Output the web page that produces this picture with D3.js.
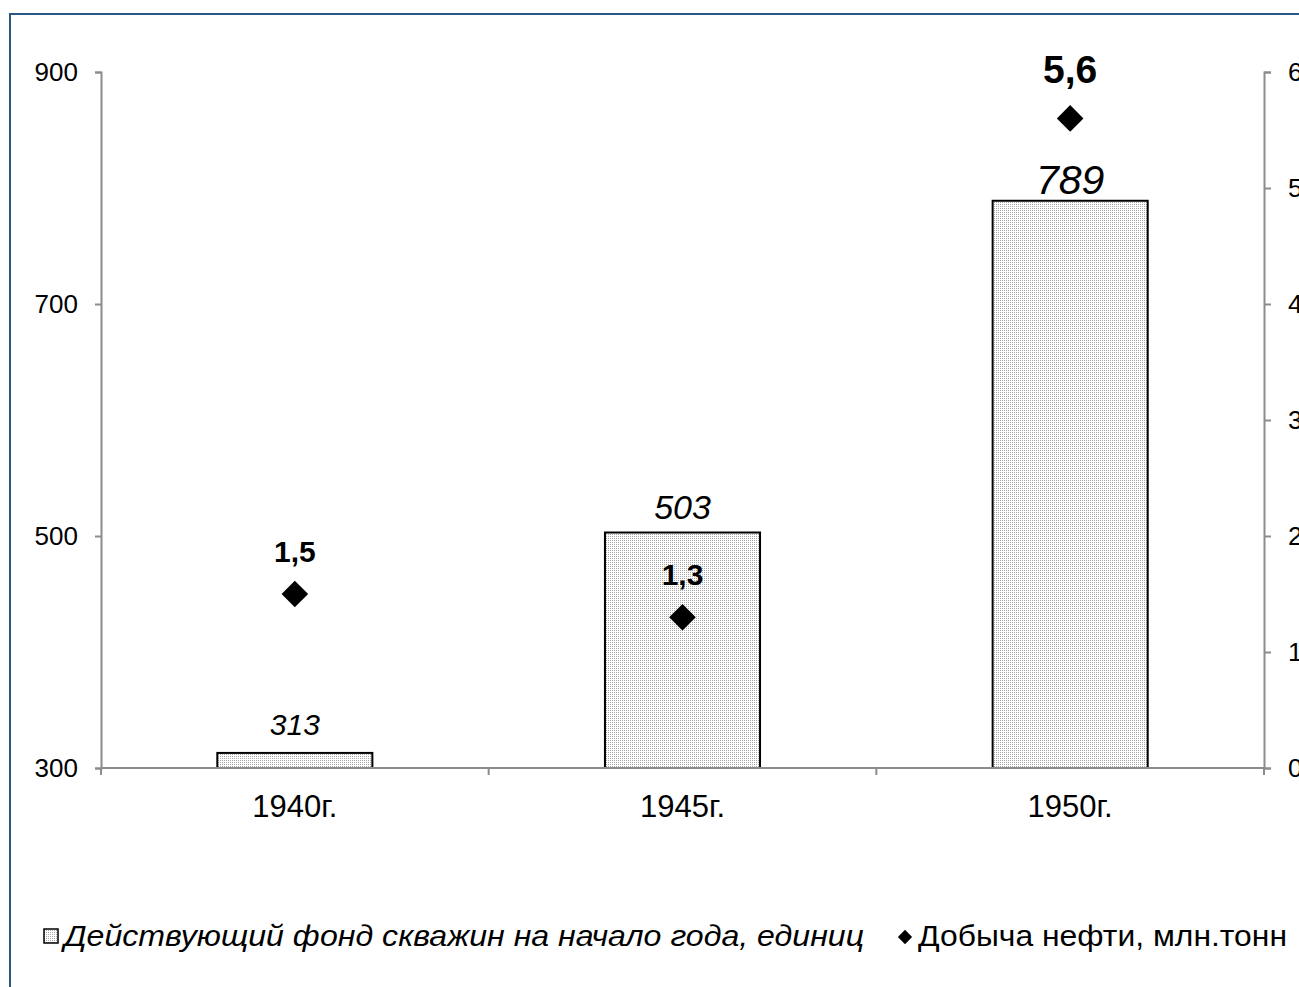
<!DOCTYPE html>
<html>
<head>
<meta charset="utf-8">
<script src="https://cdn.jsdelivr.net/npm/d3@7"></script>
<style>
  html, body { margin: 0; padding: 0; background: #fff; }
  svg { display: block; font-family: "Liberation Sans", Arial, sans-serif; }
</style>
</head>
<body>
<svg id="chart" width="1299" height="987"></svg>
<script>
// ---- data ----
const categories = ["1940г.", "1945г.", "1950г."];
const wells = [313, 503, 789];              // Действующий фонд скважин, единиц (left axis)
const oil = [1.5, 1.3, 5.6];                // Добыча нефти, млн.тонн (right axis)
const wellLabelSizes = [30, 34, 41];
const oilLabelSizes = [30, 30, 39];
const leftTicks = [300, 500, 700, 900];
const rightTicks = [0, 1, 2, 3, 4, 5, 6];
const legendLabels = ["Действующий фонд скважин на начало года, единиц", "Добыча нефти, млн.тонн"];

const svg = d3.select("#chart");
const axisColor = "#8c8c8c";

// pattern for bars
const defs = svg.append("defs");
const pat = defs.append("pattern").attr("id", "dots").attr("patternUnits", "userSpaceOnUse")
  .attr("width", 2).attr("height", 2);
pat.append("rect").attr("width", 2).attr("height", 2).attr("fill", "#ffffff");
pat.append("rect").attr("width", 1).attr("height", 1).attr("fill", "#a8a8a8");

// outer border
svg.append("rect").attr("x", 10).attr("y", 14).attr("width", 1320).attr("height", 1000)
  .attr("fill", "none").attr("stroke", "#2b5788").attr("stroke-width", 2);

const plot = { left: 101, right: 1264, top: 72, bottom: 768 };

const x = d3.scaleBand().domain(categories).range([plot.left, plot.right])
  .paddingInner(0.6).paddingOuter(0.3);
const yL = d3.scaleLinear().domain([300, 900]).range([plot.bottom, plot.top]);
const yR = d3.scaleLinear().domain([0, 6]).range([plot.bottom, plot.top]);

// bars
svg.append("g").selectAll("rect").data(wells).join("rect")
  .attr("x", (d, i) => x(categories[i]))
  .attr("y", d => yL(d))
  .attr("width", x.bandwidth())
  .attr("height", d => yL(300) - yL(d))
  .attr("fill", "url(#dots)")
  .attr("stroke", "#000").attr("stroke-width", 2);

// axes
function styleAxis(g, fs) {
  g.selectAll("path.domain").attr("stroke", axisColor).attr("stroke-width", 2);
  g.selectAll(".tick line").attr("stroke", axisColor).attr("stroke-width", 2);
  g.selectAll(".tick text").attr("fill", "#000").attr("font-size", fs + "px")
    .attr("font-family", "Liberation Sans, Arial, sans-serif");
}
const gL = svg.append("g").attr("transform", `translate(${plot.left},0)`)
  .call(d3.axisLeft(yL).tickValues(leftTicks).tickSize(6).tickPadding(17).tickSizeOuter(6));
styleAxis(gL, 26);
const gR = svg.append("g").attr("transform", `translate(${plot.right},0)`)
  .call(d3.axisRight(yR).tickValues(rightTicks).tickSize(7).tickPadding(17).tickSizeOuter(7));
styleAxis(gR, 26);

// x axis with ticks between categories
const xEdges = [0, 1, 2, 3].map(i => plot.left + i * x.step());
const gX = svg.append("g");
gX.append("line").attr("x1", plot.left).attr("x2", plot.right).attr("y1", plot.bottom).attr("y2", plot.bottom)
  .attr("stroke", axisColor).attr("stroke-width", 2);
gX.selectAll("line.t").data(xEdges).join("line").attr("class", "t")
  .attr("x1", d => d).attr("x2", d => d).attr("y1", plot.bottom).attr("y2", plot.bottom + 7)
  .attr("stroke", axisColor).attr("stroke-width", 2);
gX.selectAll("text").data(categories).join("text")
  .attr("x", d => x(d) + x.bandwidth() / 2).attr("y", 817)
  .attr("text-anchor", "middle").attr("font-size", "31px").attr("fill", "#000")
  .text(d => d);

// bar labels
svg.append("g").selectAll("text").data(wells).join("text")
  .attr("x", (d, i) => x(categories[i]) + x.bandwidth() / 2)
  .attr("y", (d, i) => yL(d) - (48 - wellLabelSizes[i]))
  .attr("text-anchor", "middle").attr("font-style", "italic")
  .attr("font-size", (d, i) => wellLabelSizes[i] + "px").attr("fill", "#000")
  .text(d => d);

// diamonds
const diamond = d3.symbol().type(d3.symbolDiamond2).size(450);
svg.append("g").selectAll("path").data(oil).join("path")
  .attr("transform", (d, i) => `translate(${x(categories[i]) + x.bandwidth() / 2},${yR(d)})`)
  .attr("d", diamond).attr("fill", "#000");

// oil labels
svg.append("g").selectAll("text").data(oil).join("text")
  .attr("x", (d, i) => x(categories[i]) + x.bandwidth() / 2)
  .attr("y", (d, i) => yR(d) - (oilLabelSizes[i] > 32 ? 35 : 32))
  .attr("text-anchor", "middle").attr("font-weight", "bold")
  .attr("font-size", (d, i) => oilLabelSizes[i] + "px").attr("fill", "#000")
  .text(d => String(d).replace(".", ","));

// legend
const lg = svg.append("g");
lg.append("rect").attr("x", 44).attr("y", 929).attr("width", 14).attr("height", 14)
  .attr("fill", "url(#dots)").attr("stroke", "#000").attr("stroke-width", 1.5);
lg.append("text").attr("x", 64).attr("y", 946).attr("font-style", "italic")
  .attr("font-size", "29px").attr("fill", "#000")
  .attr("textLength", 800).attr("lengthAdjust", "spacingAndGlyphs").text(legendLabels[0]);
lg.append("path").attr("transform", "translate(905,937)")
  .attr("d", d3.symbol().type(d3.symbolDiamond2).size(130)).attr("fill", "#000");
lg.append("text").attr("x", 918).attr("y", 946)
  .attr("font-size", "29px").attr("fill", "#000")
  .attr("textLength", 369).attr("lengthAdjust", "spacingAndGlyphs").text(legendLabels[1]);
</script>
</body>
</html>
